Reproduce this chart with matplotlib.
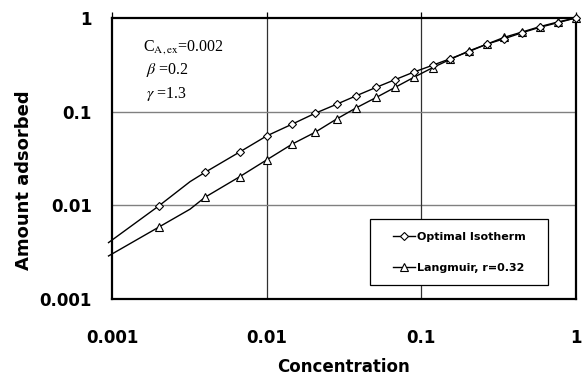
import matplotlib
matplotlib.use("Agg")
import matplotlib.pyplot as plt
from matplotlib.patches import Rectangle

plt.rcParams["font.family"] = "DejaVu Sans"
plt.rcParams["mathtext.fontset"] = "stix"

# data
conc = [0.00095, 0.002, 0.0032, 0.004, 0.0067, 0.01, 0.0147, 0.0206, 0.0284, 0.0381,
        0.0513, 0.068, 0.0899, 0.1188, 0.1545, 0.203, 0.265, 0.345, 0.451, 0.585, 0.765, 1.0]
optimal = [0.0040, 0.0098, 0.0179, 0.0225, 0.0371, 0.055, 0.0738, 0.096, 0.12, 0.148,
           0.182, 0.22, 0.265, 0.313, 0.368, 0.437, 0.524, 0.601, 0.697, 0.795, 0.89, 1.0]
langmuir = [0.00288, 0.00583, 0.0091, 0.0122, 0.0202, 0.0305, 0.0452, 0.0602, 0.0835, 0.110,
            0.142, 0.182, 0.233, 0.295, 0.362, 0.444, 0.524, 0.622, 0.709, 0.808, 0.906, 1.0]
marked = [i for i in range(len(conc)) if i not in (0, 2)]

ticks = [0.001, 0.01, 0.1, 1]
tick_labels = ["0.001", "0.01", "0.1", "1"]

fig = plt.figure(figsize=(5.82, 3.77), dpi=100)
ax = fig.add_axes([0.1924, 0.2069, 0.7968, 0.7454])

ax.plot(conc, optimal, '-', c='k', lw=1.0, marker='D', ms=4.5, mfc='w', mec='k', mew=0.8,
        markevery=marked, clip_on=False, zorder=5, label='Optimal Isotherm')
ax.plot(conc, langmuir, '-', c='k', lw=1.0, marker='^', ms=6, mfc='w', mec='k', mew=0.8,
        markevery=marked, clip_on=False, zorder=4, label='Langmuir, r=0.32')

ax.set_xscale('log')
ax.set_yscale('log')
ax.set_xlim(0.001, 1)
ax.set_ylim(0.001, 1)
ax.set_xticks(ticks, tick_labels)
ax.set_yticks(ticks, tick_labels)
ax.minorticks_off()

for v in ticks[1:-1]:
    ax.axvline(v, color='#303030', lw=0.9, zorder=1)
    ax.axhline(v, color='#808080', lw=1.0, zorder=1)

for s in ax.spines.values():
    s.set_linewidth(1.6)
    s.set_color('k')

ax.tick_params(axis='x', which='major', bottom=False, top=True, direction='out',
               length=4.5, width=0.9, pad=17, labelsize=12)
ax.tick_params(axis='y', which='major', left=False, pad=11, labelsize=12)
for lab in ax.get_xticklabels() + ax.get_yticklabels():
    lab.set_fontweight('bold')

ax.set_xlabel('Concentration', fontsize=12, fontweight='bold', labelpad=8)
ax.set_ylabel('Amount adsorbed', fontsize=13, fontweight='bold')
ax.yaxis.set_label_coords(-0.170, 0.4235)

# parameter annotation
ax.text(0.067, 0.897, r'C$_{\rm A,ex}$=0.002', transform=ax.transAxes, fontsize=11.5,
        family='Liberation Serif', va='center', ha='left')
ax.text(0.073, 0.815, r'$\beta$ =0.2', transform=ax.transAxes, fontsize=11.5,
        family='Liberation Serif', va='center', ha='left')
ax.text(0.073, 0.7295, r'$\gamma$ =1.3', transform=ax.transAxes, fontsize=11.5,
        family='Liberation Serif', va='center', ha='left')

# legend box
ax.add_patch(Rectangle((0.556, 0.0488), 0.3845, 0.235, transform=ax.transAxes,
                       facecolor='w', edgecolor='k', lw=0.9, zorder=6))
leg = ax.legend(loc='center', bbox_to_anchor=(0.7487, 0.1662), frameon=False,
                prop={'size': 8, 'weight': 'bold'}, handlelength=2.0, handletextpad=0.2,
                labelspacing=1.9, borderpad=0)
leg.set_zorder(7)

fig.savefig('out.png', dpi=100)
